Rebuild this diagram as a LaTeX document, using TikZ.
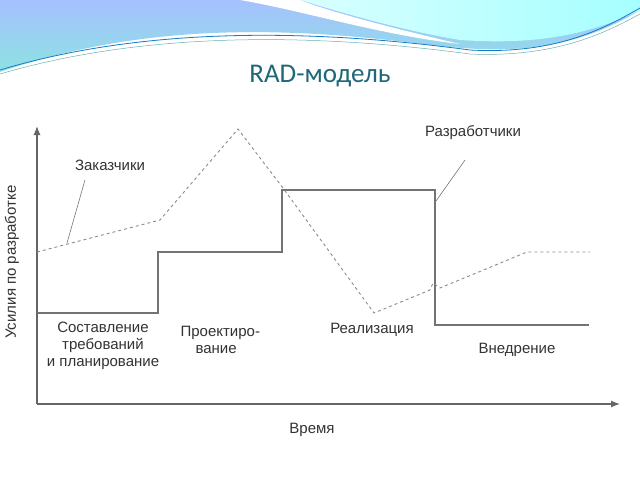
\documentclass[tikz,border=0pt]{standalone}
\usepackage{fontspec}
\usetikzlibrary{arrows.meta}
\setmainfont{Liberation Sans}
\newfontfamily\titlefont{Carlito}
\begin{document}
\begin{tikzpicture}[x=1pt,y=-1pt,
  lbl/.style={font=\fontsize{15}{17}\selectfont, text=black!80},
  solidline/.style={draw=black!55, line width=1.2pt},
  dashline/.style={draw=black!45, dashed, line width=0.9pt},
  leader/.style={draw=black!55, line width=0.6pt},
  axis/.style={draw=black!60, line width=1.2pt, -{Latex[length=9pt,width=7pt]}}]
\useasboundingbox (0,0) rectangle (640,480);
\fill[white] (0,0) rectangle (640,480);
% decorative wave
\shade[top color=cyan!30!blue!35!white, bottom color=cyan!50!teal!45!white]
  (0,0) -- (640,0) -- (640,10) .. controls (560,60) and (480,50) .. (430,45)
  .. controls (300,28) and (150,20) .. (0,72) -- cycle;
\fill[white] (240,0) .. controls (300,10) and (380,35) .. (460,44)
  .. controls (400,30) and (330,12) .. (300,0) -- cycle;
\shade[left color=cyan!15!white, right color=cyan!35!white]
  (300,0) -- (640,0) -- (640,10) .. controls (580,40) and (520,44) .. (460,40)
  .. controls (400,30) and (340,12) .. (300,0) -- cycle;
\draw[cyan!60!blue, line width=0.8pt] (0,70) .. controls (150,25) and (320,30) .. (470,50)
  .. controls (560,55) and (610,25) .. (640,8);
\draw[teal!60, line width=0.5pt] (0,74) .. controls (150,30) and (320,34) .. (470,54)
  .. controls (560,58) and (610,30) .. (640,14);
\node[font=\titlefont\fontsize{27}{30}\selectfont, text={rgb,255:red,31;green,104;blue,122}] (title) at (320,76) {RAD-модель};
% axes
\coordinate (o) at (37,404);
\coordinate (ytop) at (37,126);
\coordinate (xend) at (620,404);
\draw[axis] (o) -- (ytop);
\draw[axis] (o) -- (xend);
% developers
\draw[solidline] (37,313) -- (158,313) -- (158,252) -- (282,252) -- (282,190) -- (435,190) -- (435,325) -- (589,325);
% customers
\draw[dashline] (37,252) -- (160,220) -- (238,129) -- (283,188) -- (374,313) -- (430,290) -- (433,283) -- (440,288) -- (527,252) -- (590,252);
% labels
\node[lbl] (zak) at (110,165) {Заказчики};
\coordinate (zakend) at (67,243);
\draw[leader] (85,180) -- (zakend);
\node[lbl] (raz) at (473,133) {Разработчики};
\coordinate (razend) at (436,201);
\draw[leader] (465,160) -- (razend);
\node[lbl, align=center] (p1) at (103,346) {Составление\\требований\\и планирование};
\node[lbl, align=left, anchor=west] (p2) at (177,340) {Проектиро-\\\hspace*{15pt}вание};
\node[lbl] (p3) at (372,330) {Реализация};
\node[lbl] (p4) at (517,350) {Внедрение};
\node[lbl] (xl) at (312,430) {Время};
\node[lbl, rotate=90] (yl) at (12,262) {Усилия по разработке};
\end{tikzpicture}
\end{document}
